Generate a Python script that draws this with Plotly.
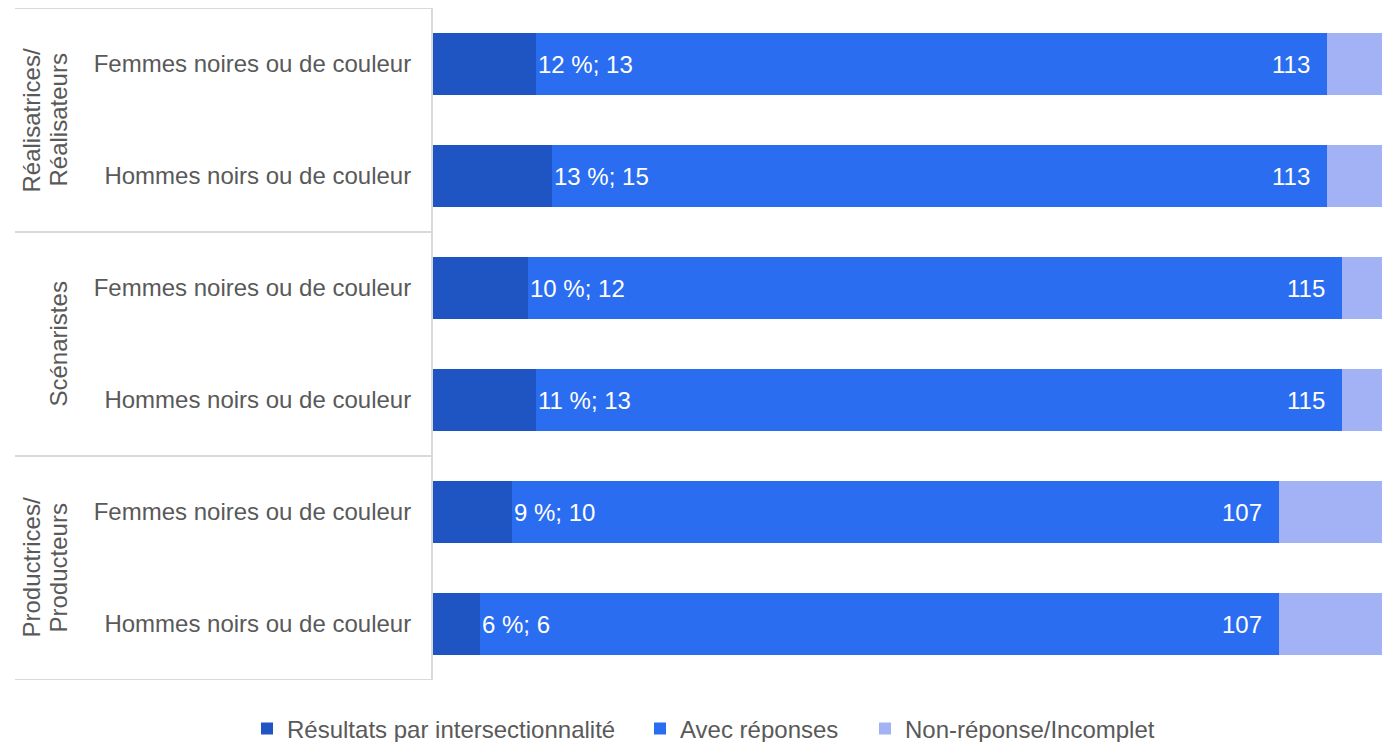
import plotly.graph_objects as go

# ---- data ----
group_labels = ["Réalisatrices/<br>Réalisateurs", "Scénaristes", "Productrices/<br>Producteurs"]
group_sizes = [2, 2, 2]
bar_labels = ["Femmes noires ou de couleur", "Hommes noirs ou de couleur",
              "Femmes noires ou de couleur", "Hommes noirs ou de couleur",
              "Femmes noires ou de couleur", "Hommes noirs ou de couleur"]
intersection_n = [13, 15, 12, 13, 10, 6]
intersection_pct = [12, 13, 10, 11, 9, 6]
with_responses = [113, 113, 115, 115, 107, 107]
total = [120, 120, 120, 120, 120, 120]
series_names = ["Résultats par intersectionnalité", "Avec réponses", "Non-réponse/Incomplet"]

avec_seg = [w - n for w, n in zip(with_responses, intersection_n)]
nonresp_seg = [t - w for t, w in zip(total, with_responses)]

# ---- style ----
FONT = "Liberation Sans, Arial, sans-serif"
FS = 24
GREY = "#595959"
LINE = "#D9D9D9"
colors = ["#1F55C2", "#2A6DF0", "#A3B2F4"]

W, H = 1388, 742
ML, MR, MT, MB = 433, 6, 8, 62
PW = W - ML - MR
PH = H - MT - MB

def px_to_paper_x(px):
    return (px - ML) / PW

def px_to_paper_y(py):
    return (H - MB - py) / PH

ypos = list(range(len(bar_labels)))

fig = go.Figure()
segs = [intersection_n, avec_seg, nonresp_seg]
legend_ids = ["legend", "legend2", "legend3"]
for name, vals, col, lg in zip(series_names, segs, colors, legend_ids):
    fig.add_trace(go.Bar(
        y=ypos, x=vals, name=name, orientation="h",
        marker=dict(color=col, line=dict(width=0)),
        legend=lg, showlegend=True, hoverinfo="x+name",
    ))

annotations = []
for i in ypos:
    annotations.append(dict(
        x=intersection_n[i], y=i, xref="x", yref="y",
        text=f"{intersection_pct[i]} %; {intersection_n[i]}",
        showarrow=False, xanchor="left", yanchor="middle", xshift=0,
        font=dict(family=FONT, size=FS, color="white")))
    annotations.append(dict(
        x=with_responses[i], y=i, xref="x", yref="y",
        text=f"{with_responses[i]}",
        showarrow=False, xanchor="right", yanchor="middle", xshift=-15,
        font=dict(family=FONT, size=FS, color="white")))

# group labels and separators
shapes = []
start = -0.5
shapes.append(dict(type="line", xref="paper", yref="y",
                   x0=px_to_paper_x(15), x1=0, y0=start, y1=start,
                   line=dict(color=LINE, width=2)))
LINE_PITCH = 27
for g, size in zip(group_labels, group_sizes):
    end = start + size
    center = (start + end) / 2
    lines = g.split("<br>")
    n = len(lines)
    for j, ln in enumerate(lines):
        annotations.append(dict(
            x=px_to_paper_x(73 - LINE_PITCH * (n - 1 - j)), y=center,
            xref="paper", yref="y",
            text=ln, textangle=-90, showarrow=False,
            xanchor="right", yanchor="middle",
            font=dict(family=FONT, size=FS, color=GREY)))
    shapes.append(dict(type="line", xref="paper", yref="y",
                       x0=px_to_paper_x(15), x1=0, y0=end, y1=end,
                       line=dict(color=LINE, width=2)))
    start = end
shapes.append(dict(type="line", xref="paper", yref="paper",
                   x0=px_to_paper_x(432), x1=px_to_paper_x(432), y0=0, y1=1,
                   line=dict(color=LINE, width=2)))

legend_common = dict(orientation="h", yanchor="middle", y=px_to_paper_y(729),
                     xanchor="left", bgcolor="rgba(0,0,0,0)",
                     font=dict(family=FONT, size=FS, color=GREY))

fig.update_layout(
    width=W, height=H,
    margin=dict(l=ML, r=MR, t=MT, b=MB, autoexpand=False),
    barmode="stack", bargap=0.45, showlegend=True,
    plot_bgcolor="white", paper_bgcolor="white",
    font=dict(family=FONT, size=FS, color=GREY),
    xaxis=dict(range=[0, sum(total) / len(total)], visible=False, fixedrange=True),
    yaxis=dict(tickvals=ypos, ticktext=bar_labels, range=[len(ypos) - 0.5, -0.5],
               showgrid=False, zeroline=False, showline=False,
               ticks="outside", ticklen=16, tickcolor="rgba(0,0,0,0)",
               tickfont=dict(family=FONT, size=FS, color=GREY)),
    annotations=annotations, shapes=shapes,
    legend=dict(x=px_to_paper_x(247), **legend_common),
    legend2=dict(x=px_to_paper_x(640), **legend_common),
    legend3=dict(x=px_to_paper_x(865), **legend_common),
)

fig.write_html("out.html", config={"displayModeBar": False},
               post_script="document.body.style.margin='0';document.body.style.overflow='hidden';")
